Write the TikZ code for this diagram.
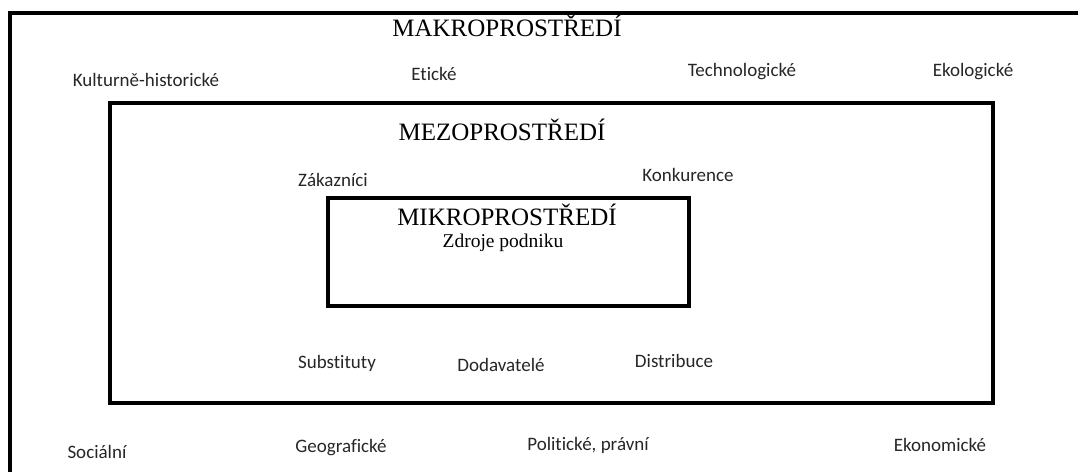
\documentclass[tikz,border=0pt]{standalone}
\usepackage{fontspec}
\setmainfont{Liberation Serif}
\newfontfamily\lblfont[Ligatures=NoCommon]{Carlito}
\begin{document}
\begin{tikzpicture}[x=1pt,y=-1pt,
  lbl/.style={font=\lblfont\fontsize{19}{21}\selectfont, text=black!85, inner sep=0pt, anchor=center},
  ttl/.style={font=\fontsize{25}{28}\selectfont, inner sep=0pt, anchor=center},
  sub/.style={font=\fontsize{19.5}{22}\selectfont, inner sep=0pt, anchor=center},
  frame/.style={draw=black, line width=3.5pt}]
\useasboundingbox (0,0) rectangle (1078,471);
% outer (macro) frame, open to the right and bottom
\draw[frame] (10,490) -- (10,13) -- (1100,13);
% meso and micro frames
\node[frame, minimum width=883pt, minimum height=300pt, inner sep=0pt] (meso) at (551.5,253) {};
\node[frame, minimum width=361pt, minimum height=108pt, inner sep=0pt] (mikro) at (508.5,252) {};
% titles
\node[ttl] (makroT) at (507,26) {MAKROPROSTŘEDÍ};
\node[ttl] (mezoT) at (502,130) {MEZOPROSTŘEDÍ};
\node[ttl] (mikroT) at (507,215) {MIKROPROSTŘEDÍ};
\node[sub] (zdroje) at (503,243) {Zdroje podniku};
% macro factors
\node[lbl] (kult) at (146,80) {Kulturně-historické};
\node[lbl] (etic) at (434,74) {Etické};
\node[lbl] (tech) at (742,72) {Technologické};
\node[lbl] (ekol) at (973,72) {Ekologické};
\node[lbl] (soc) at (97,452) {Sociální};
\node[lbl] (geo) at (341,448) {Geografické};
\node[lbl] (pol) at (588,445) {Politické, právní};
\node[lbl] (ekon) at (940,445) {Ekonomické};
% meso factors
\node[lbl] (zak) at (333,180) {Zákazníci};
\node[lbl] (konk) at (688,175) {Konkurence};
\node[lbl] (subst) at (337,363) {Substituty};
\node[lbl] (dod) at (501,365) {Dodavatelé};
\node[lbl] (dist) at (674,361) {Distribuce};
\end{tikzpicture}
\end{document}
